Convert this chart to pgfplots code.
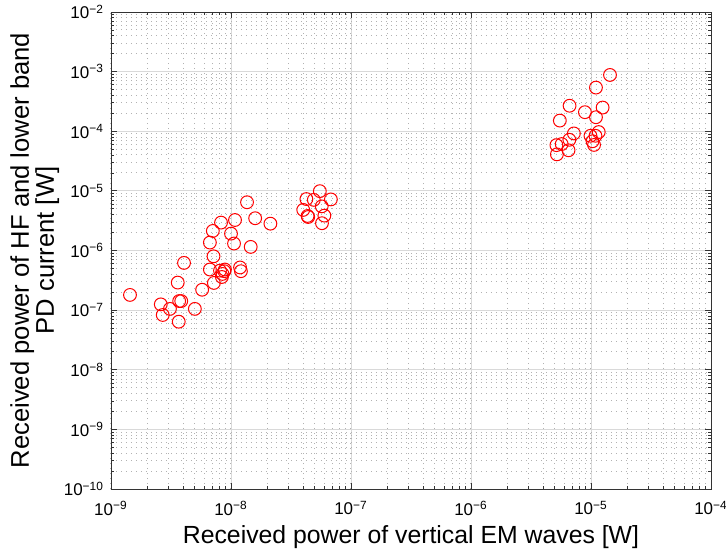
\documentclass[border=0pt]{standalone}
\usepackage{fontspec}
\setmainfont{Liberation Sans}
\usepackage{pgfplots}
\pgfplotsset{compat=1.18}
\begin{document}
\begin{tikzpicture}
\begin{axis}[
  scale only axis, width=300pt, height=238.5pt,
  xmode=log, ymode=log,
  xmin=1e-9, xmax=1e-4, ymin=1e-10, ymax=1e-2,
  xtick={1e-9,1e-8,1e-7,1e-6,1e-5,1e-4},
  xticklabels={10\textsuperscript{−9},10\textsuperscript{−8},10\textsuperscript{−7},10\textsuperscript{−6},10\textsuperscript{−5},10\textsuperscript{−4}},
  ytick={1e-10,1e-9,1e-8,1e-7,1e-6,1e-5,1e-4,1e-3,1e-2},
  yticklabels={10\textsuperscript{−10},10\textsuperscript{−9},10\textsuperscript{−8},10\textsuperscript{−7},10\textsuperscript{−6},10\textsuperscript{−5},10\textsuperscript{−4},10\textsuperscript{−3},10\textsuperscript{−2}},
  grid=both,
  major grid style={draw=black!15, line width=0.4pt},
  minor grid style={draw=black!30, line width=0.5pt, dash pattern=on 0.5pt off 2pt},
  tick align=inside,
  major tick length=3pt, minor tick length=1.6pt,
  axis line style={draw=black!80, line width=0.4pt},
  every tick/.style={black!80, line width=0.4pt},
  ticklabel style={font=\fontsize{8.5}{9}\selectfont},
  xticklabel style={yshift=-2.5pt},
  xlabel={Received power of vertical EM waves [W]},
  ylabel={Received power of HF and lower band\\PD current [W]},
  xlabel style={font=\fontsize{12.4}{14}\selectfont, at={(axis description cs:0.5,-0.1006)}, anchor=center},
  ylabel style={font=\fontsize{12.8}{12.5}\selectfont, align=center, at={(axis description cs:-0.127,0.5)}, anchor=center},
]
\addplot[only marks, mark=o, mark size=3.2pt, red, mark options={line width=0.5pt}] coordinates {
(1.44e-9,1.8e-7) (2.6e-9,1.25e-7) (2.7e-9,8.3e-8) (3.1e-9,1.05e-7)
(3.6e-9,2.9e-7) (3.7e-9,1.42e-7) (3.85e-9,1.42e-7) (3.67e-9,6.4e-8)
(4.06e-9,6.2e-7) (5.0e-9,1.05e-7) (5.75e-9,2.2e-7) (7.2e-9,2.86e-7)
(6.67e-9,4.8e-7) (7.15e-9,8e-7) (6.67e-9,1.36e-6) (7.06e-9,2.13e-6)
(8.26e-9,2.94e-6) (1.0e-8,1.92e-6) (1.08e-8,3.25e-6) (1.06e-8,1.31e-6)
(1.36e-8,6.45e-6) (1.59e-8,3.48e-6) (1.46e-8,1.15e-6) (2.13e-8,2.82e-6)
(8.1e-9,4.6e-7) (8.8e-9,4.5e-7) (8.5e-9,4.05e-7) (8.4e-9,3.6e-7) (8.9e-9,4.8e-7)
(1.19e-8,5.2e-7) (1.21e-8,4.5e-7)
(5.5e-8,9.9e-6) (4.25e-8,7.3e-6) (4.9e-8,7.07e-6) (6.8e-8,7.2e-6)
(5.7e-8,5.5e-6) (4.0e-8,4.8e-6) (4.35e-8,3.8e-6) (4.4e-8,3.65e-6)
(6.0e-8,3.85e-6) (5.73e-8,2.87e-6)
(1.44e-5,8.8e-4) (1.1e-5,5.4e-4) (6.63e-6,2.68e-4) (1.25e-5,2.5e-4)
(8.9e-6,2.09e-4) (1.1e-5,1.72e-4) (5.5e-6,1.51e-4) (7.2e-6,9.2e-5)
(1.16e-5,9.7e-5) (9.9e-6,8.4e-5) (1.09e-5,8.4e-5) (6.6e-6,7.2e-5)
(1.03e-5,6.8e-5) (5.7e-6,6.1e-5) (5.15e-6,5.85e-5) (1.06e-5,5.9e-5)
(6.5e-6,4.8e-5) (5.2e-6,4.1e-5)
};
\end{axis}
\pgfresetboundingbox
\path (current axis.south west) ++(-55.5pt,-32.5pt) rectangle ++(363pt,277pt);
\end{tikzpicture}
\end{document}
